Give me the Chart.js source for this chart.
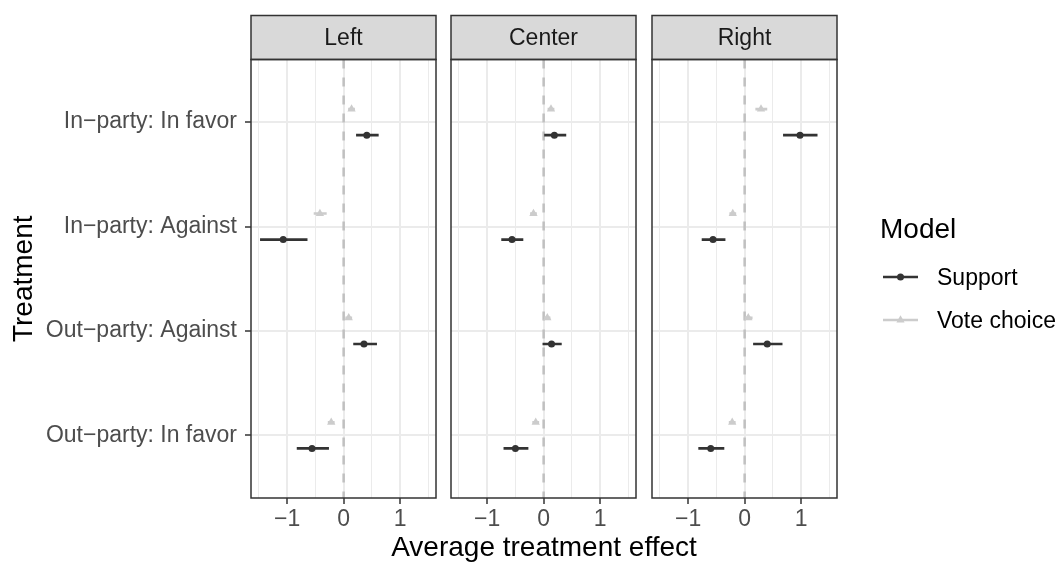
<!DOCTYPE html>
<html>
<head>
<meta charset="utf-8">
<script src="https://cdn.jsdelivr.net/npm/chart.js@4.4.0/dist/chart.umd.min.js"></script>
<style>
  body { margin: 0; background: #fff; font-family: "Liberation Sans", Arial, sans-serif; }
  #wrap { position: relative; width: 1056px; height: 563px; overflow: hidden; }
  #wrap canvas { position: absolute; left: 0; top: 0; }
  .x-title { position: absolute; left: 344px; width: 400px; top: 533px; text-align: center;
             font-size: 28px; line-height: 28px; color: #000; white-space: nowrap; }
  .legend-title { position: absolute; left: 880px; top: 213px; font-size: 28px; line-height: 32px; color: #000; }
  .legend-key { position: absolute; left: 883px; }
  .legend-label { position: absolute; left: 937px; font-size: 23px; line-height: 26px; color: #000; }
</style>
</head>
<body>
<div id="wrap">
  <canvas id="panel0" width="1056" height="563"></canvas>
  <canvas id="panel1" width="1056" height="563"></canvas>
  <canvas id="panel2" width="1056" height="563"></canvas>
  <div class="x-title">Average treatment effect</div>
  <div id="legend"></div>
</div>
<script>
const panels = ['Left', 'Center', 'Right'];
const treatments = ['In\u2212party: In favor', 'In\u2212party: Against', 'Out\u2212party: Against', 'Out\u2212party: In favor'];
const models = ['Support', 'Vote choice'];
const modelColors = ['#333333', '#cccccc'];
const modelShapes = ['circle', 'triangle'];
const xTicks = [-1, 0, 1];
const xMinorTicks = [-1.5, -0.5, 0.5, 1.5];

// one row per panel (Left, Center, Right), one entry per treatment
const supportEst = [[0.41, -1.07, 0.36, -0.56], [0.19, -0.56, 0.14, -0.50], [0.98, -0.56, 0.40, -0.60]];
const supportLo  = [[0.22, -1.48, 0.17, -0.83], [0.01, -0.75, -0.02, -0.71], [0.68, -0.76, 0.15, -0.82]];
const supportHi  = [[0.62, -0.64, 0.59, -0.26], [0.40, -0.36, 0.32, -0.27], [1.29, -0.34, 0.67, -0.36]];
const voteEst = [[0.14, -0.42, 0.09, -0.22], [0.13, -0.18, 0.065, -0.14], [0.29, -0.21, 0.065, -0.22]];
const voteLo  = [[0.08, -0.53, 0.03, -0.28], [0.07, -0.24, 0.01, -0.20], [0.19, -0.27, 0.00, -0.28]];
const voteHi  = [[0.20, -0.30, 0.15, -0.16], [0.19, -0.12, 0.12, -0.08], [0.40, -0.15, 0.14, -0.16]];

// layout
const panelLeft = [251, 451, 652];
const panelWidth = 185;
const panelTop = 59.5;
const stripTop = 15.5;
const axisHeight = 65;
const xMin = -1.64, xMax = 1.635;
const yMin = 0.4, yMax = 4.6;
const dodge = 0.125;

Chart.defaults.font.family = '"Liberation Sans", Arial, sans-serif';

const fmt = v => v < 0 ? '\u2212' + Math.abs(v) : String(v);
const isMajor = v => xTicks.includes(v);

// grey strip with facet label plus the dark panel box
const panelFrame = {
  id: 'panelFrame',
  afterDraw(chart, args, opts) {
    const { ctx, chartArea: a } = chart;
    ctx.save();
    ctx.fillStyle = '#d9d9d9';
    ctx.fillRect(a.left, stripTop, a.width, a.top - stripTop);
    ctx.strokeStyle = '#333333';
    ctx.lineWidth = 1.5;
    ctx.strokeRect(a.left, stripTop, a.width, a.top - stripTop);
    ctx.strokeRect(a.left, a.top, a.width, a.height);
    ctx.fillStyle = '#1a1a1a';
    ctx.font = '23px "Liberation Sans", Arial, sans-serif';
    ctx.textAlign = 'center';
    ctx.textBaseline = 'middle';
    ctx.fillText(opts.label, (a.left + a.right) / 2, (stripTop + a.top) / 2 + 1);
    ctx.restore();
  }
};

function points(est, shift) {
  return est.map((v, i) => ({ x: v, y: i + 1 + shift }));
}

function segments(lo, hi, shift) {
  const pts = [];
  lo.forEach((v, i) => {
    pts.push({ x: v, y: i + 1 + shift }, { x: hi[i], y: i + 1 + shift }, { x: null, y: null });
  });
  return pts;
}

function makePanel(k) {
  new Chart(document.getElementById('panel' + k), {
    type: 'scatter',
    data: {
      datasets: [
        { data: points(supportEst[k], dodge), pointStyle: 'circle', pointRadius: 3.5, pointHoverRadius: 3.5,
          pointBackgroundColor: modelColors[0], pointBorderWidth: 0, order: 0 },
        { data: points(voteEst[k], -dodge), pointStyle: 'triangle', pointRadius: 4.8, pointHoverRadius: 4.8,
          pointBackgroundColor: modelColors[1], pointBorderWidth: 0, order: 1 },
        { data: segments(supportLo[k], supportHi[k], dodge), showLine: true, pointRadius: 0, pointHoverRadius: 0,
          borderColor: modelColors[0], borderWidth: 2.7, order: 2 },
        { data: segments(voteLo[k], voteHi[k], -dodge), showLine: true, pointRadius: 0, pointHoverRadius: 0,
          borderColor: modelColors[1], borderWidth: 2.7, order: 3 },
        // zero reference line
        { data: [{ x: 0, y: yMin }, { x: 0, y: yMax }], showLine: true, pointRadius: 0, pointHoverRadius: 0,
          borderColor: '#c0c0c0', borderWidth: 2.5, borderDash: [9, 9], order: 4 }
      ]
    },
    options: {
      responsive: false,
      animation: false,
      events: [],
      layout: {
        autoPadding: false,
        padding: { left: k === 0 ? 0 : panelLeft[k], right: 1056 - panelLeft[k] - panelWidth, top: panelTop, bottom: 0 }
      },
      plugins: {
        legend: { display: false },
        tooltip: { enabled: false },
        panelFrame: { label: panels[k] }
      },
      scales: {
        x: {
          type: 'linear', min: xMin, max: xMax,
          afterBuildTicks: s => { s.ticks = [...xMinorTicks, ...xTicks].sort((a, b) => a - b).map(v => ({ value: v })); },
          afterFit: s => { s.height = axisHeight; },
          border: { display: false },
          grid: {
            color: '#ebebeb',
            lineWidth: c => (c.tick && isMajor(c.tick.value)) ? 2 : 1,
            tickColor: c => (c.tick && isMajor(c.tick.value)) ? '#333333' : 'rgba(0,0,0,0)',
            tickLength: 6,
            tickWidth: 1.5
          },
          ticks: {
            autoSkip: false, maxRotation: 0, minRotation: 0, padding: 2,
            color: '#4d4d4d', font: { size: 23 },
            callback: v => isMajor(v) ? fmt(v) : ''
          }
        },
        y: {
          type: 'linear', min: yMin, max: yMax, reverse: true,
          afterBuildTicks: s => { s.ticks = treatments.map((t, i) => ({ value: i + 1 })); },
          afterFit: s => { s.width = k === 0 ? panelLeft[0] : 0; },
          border: { display: false },
          grid: {
            color: '#ebebeb', lineWidth: 2,
            drawTicks: k === 0, tickColor: '#333333', tickLength: 6, tickWidth: 1.5
          },
          ticks: {
            display: k === 0, padding: 8, color: '#4d4d4d', font: { size: 23 },
            callback: v => treatments[v - 1]
          },
          title: {
            display: k === 0, text: 'Treatment', color: '#000',
            font: { size: 28, lineHeight: 1 }, padding: { top: 10, bottom: 0 }
          }
        }
      }
    },
    plugins: [panelFrame]
  });
}

panels.forEach((p, k) => makePanel(k));

// legend: title plus one key per model
const legend = document.getElementById('legend');
const keyRows = [277, 320];
let html = '<div class="legend-title">Model</div>';
models.forEach((m, i) => {
  const y = keyRows[i];
  const c = modelColors[i];
  const mark = modelShapes[i] === 'circle'
    ? `<circle cx="17.5" cy="10" r="3.5" fill="${c}"/>`
    : `<polygon points="17.5,5.2 21.6,12.4 13.4,12.4" fill="${c}"/>`;
  html += `<svg class="legend-key" style="top:${y - 10}px" width="36" height="20">` +
    `<line x1="0" y1="10" x2="35" y2="10" stroke="${c}" stroke-width="2.7"/>${mark}</svg>`;
  html += `<div class="legend-label" style="top:${y - 13}px">${m}</div>`;
});
legend.innerHTML = html;
</script>
</body>
</html>
